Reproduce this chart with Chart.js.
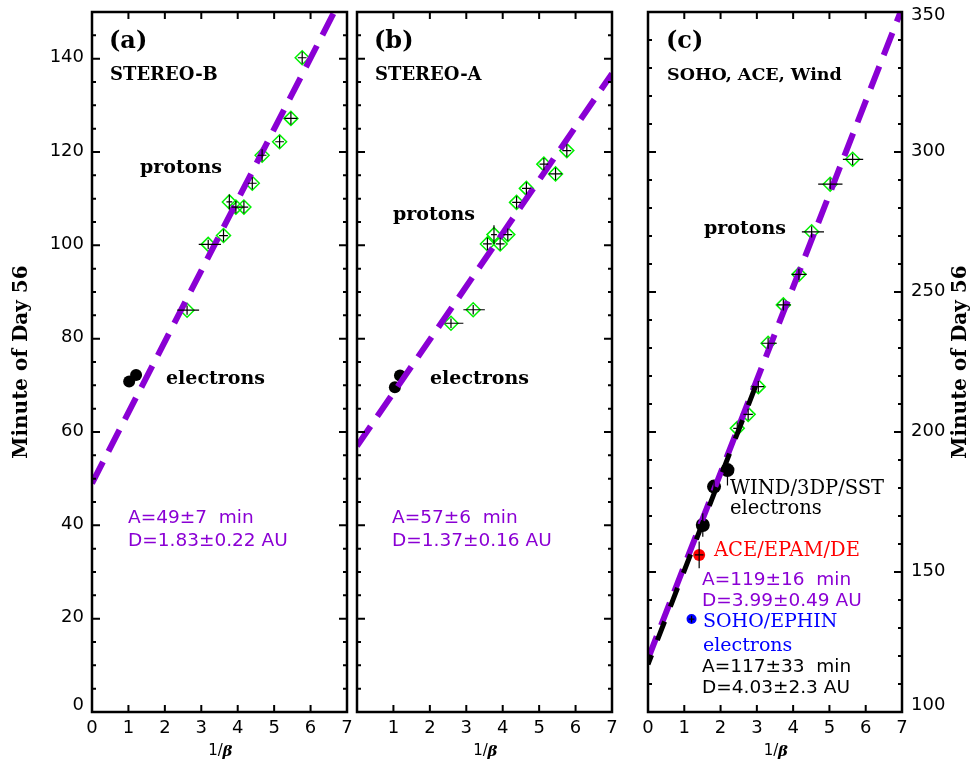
<!DOCTYPE html>
<html lang="en">
<head>
<meta charset="UTF-8">
<title>Onset time vs 1/beta</title>
<script src="https://cdn.jsdelivr.net/npm/chart.js@4.4.0/dist/chart.umd.min.js"></script>
<style>
  body { margin: 0; background: #fff; }
  #wrap { position: relative; width: 974px; height: 764px; }
  #wrap canvas { position: absolute; left: 0; top: 0; }
</style>
</head>
<body>
<div id="wrap">
  <canvas id="chartA" width="974" height="764"></canvas>
  <canvas id="chartB" width="974" height="764"></canvas>
  <canvas id="chartC" width="974" height="764"></canvas>
</div>
<script>
// ---- data ----
// (a) STEREO-B
var aProtonX  = [5.77, 5.46, 5.15, 4.67, 4.40, 3.77, 3.95, 4.17, 3.61, 3.19, 2.61];
var aProtonY  = [140.2, 127.2, 122.2, 119.3, 113.3, 109.3, 108.2, 108.2, 102.1, 100.2, 86.1];
var aProtonXm = [0.12, 0.18, 0.12, 0.12, 0.12, 0.08, 0.12, 0.12, 0.12, 0.26, 0.27];
var aProtonXp = [0.12, 0.18, 0.12, 0.12, 0.12, 0.08, 0.12, 0.12, 0.12, 0.35, 0.33];
var aProtonYe = [1.3, 1.3, 1.3, 1.3, 1.3, 1.6, 1.3, 1.3, 1.3, 1.0, 1.0];
var aElecX = [1.02, 1.21];
var aElecY = [70.8, 72.2];
var aLineX = [0, 6.65];
var aLineY = [49, 150];

// (b) STEREO-A
var bProtonX  = [5.76, 5.13, 5.45, 4.65, 4.38, 3.76, 4.14, 3.58, 3.93, 3.19, 2.58];
var bProtonY  = [120.3, 117.4, 115.3, 112.2, 109.2, 102.3, 102.3, 100.3, 100.3, 86.2, 83.3];
var bProtonXm = [0.12, 0.12, 0.18, 0.12, 0.12, 0.08, 0.12, 0.12, 0.12, 0.27, 0.16];
var bProtonXp = [0.12, 0.12, 0.18, 0.12, 0.12, 0.08, 0.12, 0.12, 0.12, 0.32, 0.34];
var bProtonYe = [1.3, 1.3, 1.3, 1.3, 1.3, 2.0, 1.3, 1.3, 1.3, 1.0, 1.0];
var bElecX = [1.04, 1.18];
var bElecY = [69.6, 72.1];
var bLineX = [0, 7];
var bLineY = [57, 136.8];

// (c) SOHO, ACE, Wind
var cProtonX  = [5.64, 5.02, 4.51, 4.16, 3.73, 3.31, 3.04, 2.76, 2.46];
var cProtonY  = [297.4, 288.5, 271.5, 256.3, 245.4, 231.7, 216.2, 206.3, 201.3];
var cProtonXm = [0.27, 0.33, 0.27, 0.20, 0.17, 0.18, 0.18, 0.13, 0.11];
var cProtonXp = [0.29, 0.34, 0.34, 0.21, 0.20, 0.24, 0.16, 0.13, 0.11];
var cProtonYe = [2, 2, 2, 2, 2, 2, 2, 2, 2];
var cWindX  = [2.19, 1.82, 1.51];
var cWindY  = [186.4, 180.5, 166.8];
var cWindYe = [5.5, 2.0, 4.2];
var cAceX = [1.41];
var cAceY = [156.1];
var cAceYe = [4.8];
var cSohoX = [1.20];
var cSohoY = [133.2];
var cSohoYe = [1.2];
var cLineX  = [0, 6.96];
var cLineY  = [119, 350];
var cBlackX = [0, 3.0];
var cBlackY = [117, 217.5];

var xTicksA = [0, 1, 2, 3, 4, 5, 6, 7];
var xTicksB = [1, 2, 3, 4, 5, 6, 7];
var xTicksC = [0, 1, 2, 3, 4, 5, 6, 7];
var yTicksLeft  = [0, 20, 40, 60, 80, 100, 120, 140];
var yTicksRight = [100, 150, 200, 250, 300, 350];

var PURPLE = '#8a00d4';
var SERIF = "'DejaVu Serif', 'Liberation Serif', serif";
var SANS = "'DejaVu Sans ExtraLight', 'DejaVu Sans', sans-serif";

function pts(xs, ys) {
  return xs.map(function (x, i) { return { x: x, y: ys[i] }; });
}

function lineSet(xs, ys, color, width, dash, offset) {
  return {
    data: pts(xs, ys), showLine: true, pointRadius: 0,
    borderColor: color, borderWidth: width, borderDash: dash,
    borderDashOffset: offset || 0, borderCapStyle: 'butt'
  };
}

function protonSet(xs, ys, xm, xp, ye) {
  return {
    data: pts(xs, ys), xMinus: xm, xPlus: xp, yErr: ye,
    pointStyle: 'rectRot', pointRadius: 7, borderColor: '#00f000',
    pointBorderColor: '#00f000', pointBackgroundColor: 'rgba(0,0,0,0)', pointBorderWidth: 1.5
  };
}

function dotSet(xs, ys, color, r, ye, xe) {
  var d = {
    data: pts(xs, ys), pointStyle: 'circle', pointRadius: r,
    pointBackgroundColor: color, pointBorderColor: color, pointBorderWidth: 0
  };
  if (ye) {
    d.yErr = ye;
    d.xMinus = xs.map(function () { return xe || 0; });
    d.xPlus = d.xMinus;
  }
  return d;
}

// error bars through the chart's scales
var errorBars = {
  id: 'errorBars',
  afterDatasetsDraw: function (chart) {
    var ctx = chart.ctx, xs = chart.scales.x, ys = chart.scales.y;
    ctx.save();
    ctx.strokeStyle = '#000';
    ctx.lineWidth = 1.2;
    chart.data.datasets.forEach(function (ds) {
      if (!ds.yErr) return;
      ds.data.forEach(function (p, i) {
        var px = xs.getPixelForValue(p.x), py = ys.getPixelForValue(p.y);
        ctx.beginPath();
        if (ds.xMinus[i] || ds.xPlus[i]) {
          ctx.moveTo(xs.getPixelForValue(p.x - ds.xMinus[i]), py);
          ctx.lineTo(xs.getPixelForValue(p.x + ds.xPlus[i]), py);
        }
        ctx.moveTo(px, ys.getPixelForValue(p.y - ds.yErr[i]));
        ctx.lineTo(px, ys.getPixelForValue(p.y + ds.yErr[i]));
        ctx.stroke();
      });
    });
    ctx.restore();
  }
};

// IDL style box with inward ticks and labels
var frame = {
  id: 'frame',
  afterDraw: function (chart, args, o) {
    var ctx = chart.ctx, a = chart.chartArea, xs = chart.scales.x, ys = chart.scales.y;
    ctx.save();
    ctx.strokeStyle = '#000';
    ctx.lineWidth = 2;
    ctx.beginPath();
    for (var v = xs.min; v <= xs.max; v += 1) {
      var px = xs.getPixelForValue(v);
      ctx.moveTo(px, a.bottom); ctx.lineTo(px, a.bottom - 7);
      ctx.moveTo(px, a.top); ctx.lineTo(px, a.top + 7);
    }
    for (var w = ys.min; w <= ys.max + 1e-9; w += o.yMinor) {
      var q = w / o.yMajor;
      var len = Math.abs(q - Math.round(q)) < 1e-6 ? 8 : 4;
      var py = ys.getPixelForValue(w);
      ctx.moveTo(a.left, py); ctx.lineTo(a.left + len, py);
      ctx.moveTo(a.right, py); ctx.lineTo(a.right - len, py);
    }
    ctx.stroke();
    ctx.lineWidth = 2.5;
    ctx.strokeRect(a.left, a.top, a.right - a.left, a.bottom - a.top);

    ctx.fillStyle = '#000';
    ctx.font = '18px ' + SANS;
    ctx.textBaseline = 'middle';
    ctx.textAlign = 'center';
    o.xLabels.forEach(function (v) {
      ctx.fillText(String(v), xs.getPixelForValue(v), a.bottom + 16);
    });
    (o.leftLabels || []).forEach(function (v) {
      ctx.textAlign = 'right';
      var y = Math.min(Math.max(ys.getPixelForValue(v) - 1, a.top + 3), a.bottom - 7);
      ctx.fillText(String(v), a.left - 8, y);
    });
    (o.rightLabels || []).forEach(function (v) {
      ctx.textAlign = 'left';
      var y = Math.min(Math.max(ys.getPixelForValue(v) - 1, a.top + 3), a.bottom - 7);
      ctx.fillText(String(v), a.right + 9, y);
    });
    // x title 1/beta
    ctx.textAlign = 'center';
    ctx.font = '15px ' + SANS;
    ctx.fillText('1/', (a.left + a.right) / 2 - 4, a.bottom + 39);
    ctx.font = 'italic bold 15px ' + SERIF;
    ctx.fillText('\u03B2', (a.left + a.right) / 2 + 8, a.bottom + 40);
    ctx.restore();
  }
};

// free text placed on the figure
var notes = {
  id: 'notes',
  afterDraw: function (chart, args, o) {
    var ctx = chart.ctx;
    ctx.save();
    ctx.textBaseline = 'middle';
    o.items.forEach(function (n) {
      ctx.font = n.f;
      ctx.fillStyle = n.c || '#000';
      ctx.save();
      ctx.translate(n.x, n.y);
      if (n.rot) ctx.rotate(n.rot);
      ctx.textAlign = n.align || 'left';
      ctx.fillText(n.t, 0, 0);
      ctx.restore();
    });
    ctx.restore();
  }
};

var F_TAG = 'bold 24px ' + SERIF;
var F_SUB = 'bold 18px ' + SERIF;
var F_SUBC = 'bold 17.5px ' + SERIF;
var F_LBL = 'bold 19px ' + SERIF;
var F_INST = '19.5px ' + SERIF;
var F_BLUE = '500 19px ' + SERIF;
var F_FIT = '18.5px ' + SANS;
var F_YT = 'bold 20px ' + SERIF;

function makeChart(id, datasets, pad, ymin, ymax, frameOpts, items) {
  return new Chart(document.getElementById(id), {
    type: 'scatter',
    data: { datasets: datasets },
    options: {
      responsive: false, animation: false, events: [],
      layout: { padding: pad },
      scales: {
        x: { type: 'linear', min: 0, max: 7, display: false },
        y: { type: 'linear', min: ymin, max: ymax, display: false }
      },
      plugins: {
        legend: { display: false }, tooltip: { enabled: false },
        frame: frameOpts, notes: { items: items }
      }
    },
    plugins: [errorBars, frame, notes]
  });
}

makeChart('chartA', [
  lineSet(aLineX, aLineY, PURPLE, 6, [24, 12]),
  protonSet(aProtonX, aProtonY, aProtonXm, aProtonXp, aProtonYe),
  dotSet(aElecX, aElecY, '#000', 6)
], { left: 92, right: 627, top: 12, bottom: 52 }, 0, 150,
  { yMinor: 5, yMajor: 20, xLabels: xTicksA, leftLabels: yTicksLeft },
  [
    { t: '(a)', x: 109, y: 42, f: F_TAG },
    { t: 'STEREO-B', x: 110, y: 75, f: F_SUB },
    { t: 'protons', x: 140, y: 168, f: F_LBL },
    { t: 'electrons', x: 166, y: 379, f: F_LBL },
    { t: 'A=49\u00B17  min', x: 128, y: 518, f: F_FIT, c: PURPLE },
    { t: 'D=1.83\u00B10.22 AU', x: 128, y: 541, f: F_FIT, c: PURPLE },
    { t: 'Minute of Day 56', x: 22, y: 362, f: F_YT, rot: -Math.PI / 2, align: 'center' }
  ]);

makeChart('chartB', [
  lineSet(bLineX, bLineY, PURPLE, 6, [24, 12]),
  protonSet(bProtonX, bProtonY, bProtonXm, bProtonXp, bProtonYe),
  dotSet(bElecX, bElecY, '#000', 6)
], { left: 357, right: 362, top: 12, bottom: 52 }, 0, 150,
  { yMinor: 5, yMajor: 20, xLabels: xTicksB },
  [
    { t: '(b)', x: 374, y: 42, f: F_TAG },
    { t: 'STEREO-A', x: 375, y: 75, f: F_SUB },
    { t: 'protons', x: 393, y: 215, f: F_LBL },
    { t: 'electrons', x: 430, y: 379, f: F_LBL },
    { t: 'A=57\u00B16  min', x: 392, y: 518, f: F_FIT, c: PURPLE },
    { t: 'D=1.37\u00B10.16 AU', x: 392, y: 541, f: F_FIT, c: PURPLE }
  ]);

makeChart('chartC', [
  lineSet(cBlackX, cBlackY, '#000', 5, [20, 16], 10),
  lineSet(cLineX, cLineY, PURPLE, 6, [24, 12]),
  protonSet(cProtonX, cProtonY, cProtonXm, cProtonXp, cProtonYe),
  dotSet(cAceX, cAceY, '#ff0000', 6, cAceYe, 0.12),
  dotSet(cWindX, cWindY, '#000', 7, cWindYe),
  dotSet(cSohoX, cSohoY, '#0000ff', 5, cSohoYe, 0.08)
], { left: 648, right: 72, top: 12, bottom: 52 }, 100, 350,
  { yMinor: 10, yMajor: 50, xLabels: xTicksC, rightLabels: yTicksRight },
  [
    { t: '(c)', x: 666, y: 42, f: F_TAG },
    { t: 'SOHO, ACE, Wind', x: 667, y: 75, f: F_SUBC },
    { t: 'protons', x: 704, y: 229, f: F_LBL },
    { t: 'WIND/3DP/SST', x: 730, y: 489, f: F_INST },
    { t: 'electrons', x: 730, y: 509, f: F_INST },
    { t: 'ACE/EPAM/DE', x: 714, y: 551, f: F_INST, c: '#ff0000' },
    { t: 'A=119\u00B116  min', x: 702, y: 580, f: F_FIT, c: PURPLE },
    { t: 'D=3.99\u00B10.49 AU', x: 702, y: 601, f: F_FIT, c: PURPLE },
    { t: 'SOHO/EPHIN', x: 703, y: 622, f: F_BLUE, c: '#0000ff' },
    { t: 'electrons', x: 703, y: 646, f: F_BLUE, c: '#0000ff' },
    { t: 'A=117\u00B133  min', x: 702, y: 667, f: F_FIT },
    { t: 'D=4.03\u00B12.3 AU', x: 702, y: 688, f: F_FIT },
    { t: 'Minute of Day 56', x: 961, y: 362, f: F_YT, rot: -Math.PI / 2, align: 'center' }
  ]);
</script>
</body>
</html>
